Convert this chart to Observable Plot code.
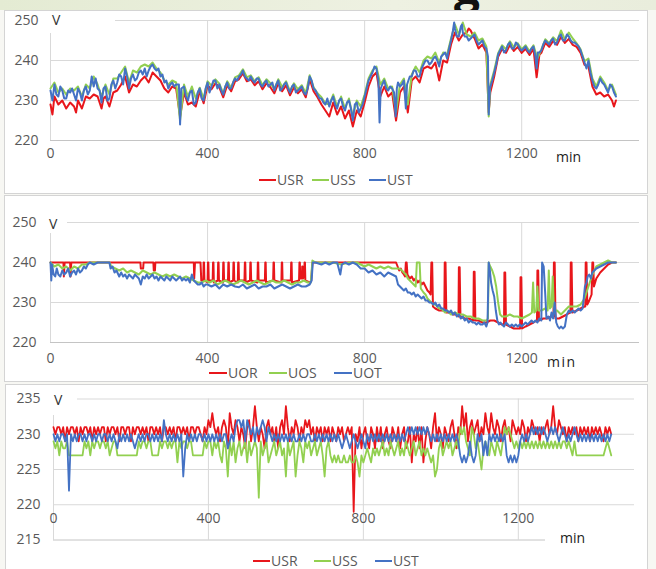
<!DOCTYPE html>
<html><head><meta charset="utf-8">
<script src="https://cdn.jsdelivr.net/npm/d3@7"></script>
<script src="https://cdn.jsdelivr.net/npm/@observablehq/plot@0.6"></script>
<style>
body{margin:0;background:#fff;}
#page{position:relative;width:656px;height:569px;overflow:hidden;background:#f7f7f3;font-family:"Open Sans",sans-serif;}
.box{position:absolute;background:#fff;border:1px solid #d4d4d4;}
.ov{position:absolute;background:#fff;}
.txt{position:absolute;white-space:nowrap;font-size:14px;line-height:14px;color:#595959;}
.sw{position:absolute;height:2px;}
.plotwrap{position:absolute;left:0;}
</style></head>
<body><div id="page"></div>
<script>
// ---------- DATA ----------
const XTICKS = [0, 400, 800, 1200];
const YTICKS1 = [220, 230, 240, 250];
const YTICKS2 = [220, 230, 240, 250];
const YTICKS3 = [215, 220, 225, 230, 235];
const NAMES1 = ["USR", "USS", "UST"];
const NAMES2 = ["UOR", "UOS", "UOT"];
const NAMES3 = ["USR", "USS", "UST"];
const COLORS = ["#e8161b", "#92d050", "#4472c4"];

// Panel 1: [minute, volts]
const USR1 = [[0,229],[5,226.5],[10,231],[20,229],[30,230],[40,228],[50,229.5],[60,228.5],[65,227],[70,230],[80,228],[90,231],[100,230.5],[110,231.5],[120,231],[130,228],[135,230.5],[140,231],[150,228.5],[160,232],[170,232.5],[180,234],[190,236],[200,232],[210,234],[220,233.5],[230,235],[240,236],[250,234.5],[260,237],[270,236],[280,235],[290,233],[300,232],[310,233.5],[320,233],[330,226],[340,232],[350,229],[360,229.5],[370,228.5],[380,232.3],[390,229.3],[400,233.8],[410,232.8],[420,234.3],[430,233.3],[440,230.8],[450,233.8],[460,232.3],[470,234.8],[480,235.3],[490,236.8],[500,234.8],[510,235.3],[520,233.8],[530,234.8],[540,232.8],[550,234.3],[560,233.3],[570,231.8],[580,234.3],[590,232.3],[600,233.8],[610,231.3],[620,233.3],[630,231.8],[640,232.8],[650,230.8],[660,235.3],[670,232.3],[680,230.8],[690,229],[700,227.5],[710,226],[720,229.5],[730,226.5],[740,228.5],[750,225.5],[760,227.5],[770,223.5],[780,227.5],[790,226],[800,229.5],[810,233.5],[820,236],[830,237],[840,231],[850,233.5],[860,231],[870,232],[880,225],[890,232],[900,233.5],[910,227],[920,235],[930,236],[940,234.5],[950,238],[960,238.5],[970,238],[980,239.5],[990,235],[1000,240],[1010,239.5],[1020,244],[1030,247],[1040,245],[1050,246.5],[1060,247],[1065,248],[1070,247.5],[1080,245.5],[1090,243],[1100,244],[1110,242],[1116,227],[1120,232],[1130,236],[1140,240.9],[1150,242.9],[1160,241.9],[1170,243.9],[1180,242.4],[1190,243.4],[1200,241.9],[1210,242.9],[1220,241.4],[1230,242.9],[1238,235.8],[1245,241.4],[1250,241.9],[1260,244.4],[1270,243.4],[1280,244.9],[1290,243.9],[1300,245.9],[1310,244.4],[1320,245.4],[1330,243.9],[1340,243.4],[1350,241.9],[1360,238.9],[1370,238.5],[1380,233.5],[1390,231.5],[1400,232],[1410,231],[1420,231.5],[1430,230],[1435,228.5],[1440,230]];
const USS1 = [[0,233],[10,234.5],[20,232],[30,233],[40,231.5],[50,233],[60,232.5],[70,233.5],[80,231],[90,234],[100,233],[110,236],[120,234],[130,231],[140,234],[150,231.5],[160,235.5],[170,235.5],[180,237],[190,238.5],[200,234.5],[210,237.5],[220,237],[230,238.5],[240,239],[250,238.5],[260,239.5],[270,238],[280,237],[290,235],[300,234],[310,235],[320,234.5],[330,225],[340,234],[350,231],[360,233.5],[370,230.5],[380,233.2],[390,230.4],[400,234.8],[410,233.7],[420,235.3],[430,234.2],[440,231.8],[450,234.8],[460,233.2],[470,235.8],[480,236.3],[490,237.8],[500,235.8],[510,236.3],[520,234.8],[530,235.8],[540,233.8],[550,235.3],[560,234.3],[570,232.8],[580,235.3],[590,233.3],[600,234.8],[610,232.3],[620,234.3],[630,232.8],[640,233.8],[650,231.8],[660,236.3],[670,233.3],[680,231.8],[690,230.8],[700,229.3],[710,229],[720,231.5],[730,228.5],[740,231],[750,228],[760,230.5],[770,226],[780,230],[790,228.5],[800,231.5],[810,235.5],[820,237.5],[830,238.5],[840,234],[850,235.5],[860,233],[870,233.5],[880,227],[890,234],[900,235.5],[910,229],[920,236.5],[930,238.5],[940,237],[950,240],[960,241],[970,240.5],[980,242],[990,239.5],[1000,242],[1010,241.5],[1020,245.5],[1030,249],[1040,246.5],[1050,249.5],[1060,246.5],[1070,246],[1080,247],[1090,245],[1100,245.5],[1110,243.5],[1116,226],[1120,234],[1130,237.5],[1140,241.8],[1150,243.8],[1160,242.8],[1170,244.8],[1180,243.3],[1190,244.3],[1200,242.8],[1210,243.8],[1220,242.3],[1230,243.8],[1240,240.5],[1250,242.8],[1260,245.3],[1270,244.3],[1280,245.8],[1290,244.8],[1300,247.5],[1310,245.3],[1320,247],[1330,245.5],[1340,244.3],[1350,242.8],[1360,239.8],[1370,240.5],[1380,235.5],[1390,233.5],[1400,236],[1410,234.5],[1420,232.5],[1430,234],[1440,231.5]];
const UST1 = [[0,232.5],[5,230],[10,234],[15,231.5],[20,231],[25,233.5],[30,232.5],[35,230.5],[40,230.5],[45,232.5],[50,232],[55,233],[60,231.5],[65,230],[70,233],[75,232],[80,230],[85,232.5],[90,233.5],[95,231.5],[100,232.5],[105,236],[110,233.5],[115,235.5],[120,233],[125,232.5],[130,229.5],[135,233],[140,233.5],[145,230],[150,230.5],[155,234],[160,235],[165,233],[170,234.5],[175,236.5],[180,236],[185,234],[190,238],[195,236],[200,233],[205,235.5],[210,236.5],[215,235],[220,235.5],[225,237],[230,237.5],[235,236.5],[240,238],[245,236],[250,237.5],[255,238.5],[260,239],[265,238],[270,237.5],[275,238],[280,236],[285,236.5],[290,234.5],[295,235],[300,233],[305,234],[310,234.5],[315,233.5],[320,234],[327,234],[330,224],[333,233],[340,233.5],[345,231],[350,230],[355,232],[360,232.5],[365,229],[370,229.5],[375,232],[380,233],[385,230.5],[390,230],[395,233],[400,234.5],[405,232],[410,233.5],[415,235],[420,235],[425,233],[430,234],[435,232.5],[440,231.5],[445,233.5],[450,234.5],[455,233],[460,233],[465,234.5],[470,235.5],[475,235],[480,236],[485,236.5],[490,237.5],[495,236],[500,235.5],[505,235],[510,236],[515,235],[520,234.5],[525,235.5],[530,235.5],[535,234],[540,233.5],[545,234.5],[550,235],[555,233.5],[560,234],[565,234.5],[570,232.5],[575,234],[580,235],[585,232.5],[590,233],[595,234],[600,234.5],[605,233],[610,232],[615,233.5],[620,234],[625,232],[630,232.5],[635,233],[640,233.5],[645,232],[650,231.5],[655,233],[660,236],[665,235],[670,233],[675,232.5],[680,231.5],[685,230.5],[690,230.5],[695,229.5],[700,229],[705,230.5],[710,228.5],[715,230],[720,231],[725,229],[730,228],[735,230],[740,230.5],[745,228.5],[750,227.5],[755,229.5],[760,230],[765,228],[770,225],[775,229],[780,229.5],[785,227],[790,228],[795,229],[800,231],[805,233],[810,235],[815,236],[820,237],[825,238.5],[830,238],[835,235],[838,224.5],[841,233],[845,234],[850,235],[855,233],[860,232.5],[865,233.5],[870,233],[875,232],[879,226],[882,233],[885,234.5],[890,233.5],[895,234],[900,235],[905,228],[908,234],[915,236],[920,236],[925,237.5],[930,237.5],[935,236],[940,236],[945,238],[950,239],[955,240],[960,240],[965,239],[970,239.5],[975,240.5],[980,241],[985,240],[990,238.5],[995,241],[1000,241.5],[1005,242],[1010,240.5],[1015,243],[1020,245],[1025,247.5],[1028,249.5],[1030,248],[1035,246],[1040,246],[1045,248.5],[1048,249],[1050,247],[1055,246],[1060,246],[1065,245],[1070,245.5],[1075,246],[1080,246.5],[1085,245],[1090,244],[1095,244.5],[1100,245],[1105,243.5],[1110,243],[1114,241],[1116,226.5],[1119,233],[1125,235],[1130,237],[1135,239],[1140,241.5],[1145,242.5],[1150,243.5],[1155,242],[1160,242.5],[1165,244],[1170,244.5],[1175,243],[1180,243],[1185,244.5],[1190,244],[1195,243],[1200,242.5],[1205,243],[1210,243.5],[1215,242.5],[1220,242],[1225,243],[1230,243.5],[1235,241],[1238,238],[1241,242],[1245,242],[1250,242.5],[1255,244],[1260,245],[1265,244.5],[1270,244],[1275,245],[1280,245.5],[1285,244],[1290,244.5],[1295,246],[1300,246.5],[1305,245],[1310,245],[1315,246.5],[1320,246],[1325,245],[1330,244.5],[1335,244.5],[1340,244],[1345,243.5],[1350,242.5],[1355,241],[1360,239.5],[1365,238],[1370,240],[1375,237],[1380,235],[1385,233.5],[1390,233],[1395,234],[1400,235.5],[1405,234.5],[1410,234],[1415,233],[1420,232],[1425,234],[1430,233.5],[1435,232],[1440,231]];

// Panel 2: [minute, volts]
const UOR2 = [[0,240],[20,240],[33,240],[34,236.5],[36,240],[50,240],[51,236.5],[53,240],[100,240],[150,240],[200,240],[229,240],[230,238.5],[236,238.5],[237,240],[262,240],[263,238],[266,238],[267,240],[300,240],[350,240],[365,240],[366,236],[368,240],[382,240],[384,235.5],
[389,235.5],[390,240],[391,240],[392,235.5],[400,235],[401,240],[402,240],[403,235.5],[413,235.5],[414,240],[415,240],[416,235],[426,235.5],[427,240],[428,240],[429,235.5],[439,235],[440,240],[441,240],[442,235.5],[452,235.5],[453,240],[454,240],[455,235],[465,235.5],[466,240],[467,240],[468,235.5],[477,235],[478,240],[479,240],[480,235.5],[494,235.5],[495,240],[496,240],[497,235],[508,235.5],[509,240],[510,240],[511,235.5],[527,235],[528,240],[529,240],[530,235.5],[546,235.5],[547,240],[548,240],[549,235],[567,235.5],[568,240],[569,240],[570,235.5],[588,235],[589,240],[590,240],[591,235.5],[612,235.5],[613,240],[614,240],[615,235],[633,235.5],[634,240],[635,240],[636,236],[640,236],[641,239],[642,239],[643,236],[646,236.5],[647,240],[648,240],[649,235.5],
[660,235],[664,235.5],[667,240],[700,240],[750,240],[800,240],[850,240],[880,240],[884,239],[888,238],[892,238.5],[896,237.5],[900,237],[903,236.5],[905,240],[907,240],[909,237],[915,236],[920,236.5],[925,235.5],[930,236],[935,235],[940,235.5],[945,234.5],[950,235],[955,234],[960,233],[965,232.5],[968,232],[970,240],[972,240],[974,229],[980,228.5],[990,228],[1000,228],[1003,228],[1004,240],[1006,240],[1008,227.5],[1015,227.5],[1025,227],[1035,227],[1039,226.5],[1040,238.8],[1042,238.8],[1044,226.5],[1055,226],[1065,226],[1077,225.5],[1078,237.7],[1080,237.7],[1082,225.5],[1090,225.5],[1100,225],[1110,225],[1120,225.5],[1130,225.5],[1140,225],[1150,224.5],[1155,224.5],[1156,237.5],[1158,237.5],[1160,224.5],[1170,224],[1180,223.5],[1190,223.5],[1196,223.5],[1197,236.3],[1199,236.3],[1201,223.5],[1210,224],[1220,224.5],[1230,225],[1239,225.5],[1240,238],[1242,238],[1244,225.5],[1255,226],[1265,226],[1275,226.5],[1281,226.5],[1282,240],[1284,240],[1286,226],[1295,226],[1305,226.5],[1315,227],[1324,227.5],[1325,240],[1327,240],[1329,227.5],[1340,228],[1350,228.5],[1360,229],[1362,229],[1363,240],[1365,240],[1367,229.5],[1372,230.5],[1378,232],[1380,240],[1382,240],[1384,234],[1390,236],[1400,237.5],[1410,238.5],[1420,239.5],[1430,240],[1440,240]];
const UOS2 = [[0,240],[10,239],[20,239.5],[30,238.5],[40,239],[50,238],[60,239],[70,238.5],[80,239.5],[90,239.5],[100,240],[150,240],[155,239],[165,238.5],[175,238],[185,238.5],[195,237.5],[205,238],[215,237.5],[225,237],[235,238],[245,237.5],[255,237],[265,237.5],[275,237],[285,236.5],[295,237],[305,236.5],[315,237],[325,236.5],[335,236],[345,236.5],[355,236],[365,235.5],[375,235],[385,235],[395,235.5],[405,235],[415,235.5],[425,234.5],[435,235],[445,235.5],[455,235],[465,234.5],[475,235],[485,235.5],[495,235],[505,234.5],[515,235],[525,235.5],[535,235],[545,234.5],[555,235],[565,235.5],[575,235],[585,235],[595,235.5],[605,235],[615,234.5],[625,235],[635,235],[645,235.5],[655,235],[663,235],[667,240.5],[675,240],[700,240],[720,240],[740,239.5],[760,240],[780,240],[790,239.5],[800,239],[810,239.5],[820,239],[830,238.5],[840,239],[850,238.5],[860,239],[870,238.5],[880,238.5],[888,238.5],[895,238],[900,237.5],[905,237],[910,236],[915,235.5],[920,235],[925,234.5],[930,234],[933,240],[940,240],[943,233.5],[950,232.5],[955,232],[960,231],[965,230.5],[970,230],[975,229.5],[980,229.5],[985,229],[990,228.5],[995,228.5],[1000,228],[1005,227.5],[1010,228],[1015,227.5],[1020,227],[1030,227.5],[1040,227],[1050,227],[1060,226.5],[1070,226.5],[1080,226],[1090,226],[1100,225.5],[1110,225.5],[1114,226],[1116,240],[1120,239],[1125,238],[1130,236.5],[1135,234],[1140,230],[1145,227],[1150,226.5],[1160,226.5],[1170,227],[1180,226.5],[1190,226.5],[1200,226],[1210,226.5],[1220,227],[1226,227.5],[1229,235],[1232,227.5],[1237,228],[1240,234],[1243,228],[1250,228],[1260,228.5],[1266,228],[1269,238],[1272,228.5],[1276,229],[1279,236.5],[1282,228],[1290,228],[1300,227],[1310,228],[1320,229],[1330,229],[1340,229],[1350,229.5],[1360,231],[1370,234],[1380,237],[1390,239],[1400,239.5],[1410,240],[1420,240.5],[1430,240],[1440,240]];
const UOT2 = [[0,240],[2,235.5],[4,239.5],[8,237],[12,236.5],[16,238.5],[20,237],[25,236.5],[30,238],[35,237],[40,237.5],[45,238.5],[50,236.5],[55,237.5],[60,238],[65,237],[70,238.5],[75,237.5],[80,238],[85,239],[90,238.5],[95,239.5],[100,240],[110,239.5],[120,240],[130,240],[140,240],[150,240],[153,238.5],[158,239],[163,237.5],[168,238],[175,236.5],[180,237.5],[185,236.5],[190,237],[195,236],[200,237],[205,236.5],[210,236],[215,237],[220,236.5],[225,236],[230,234.5],[235,236.5],[240,236],[245,237],[250,236],[255,236.5],[260,237],[265,236],[270,236.5],[275,235.5],[280,236.5],[285,236],[290,235.5],[295,236.5],[300,236],[305,235.5],[310,236.5],[315,236],[320,235.5],[325,236],[330,236.5],[335,235.5],[340,236],[345,235.5],[350,236],[355,235],[360,237],[365,235.5],[370,235],[375,234.5],[380,234.5],[385,235],[390,234],[395,234.5],[400,234.5],[410,234],[420,234.5],[430,233.5],[440,234.5],[450,234],[460,234.5],[470,234],[480,233.8],[490,234.5],[500,233.5],[510,234],[520,234.5],[530,233.5],[540,234],[550,234],[560,234.5],[570,233.5],[580,234],[590,234.5],[600,234],[610,233.5],[620,234],[630,234.5],[640,234],[650,234],[660,234.5],[665,235.5],[668,240],[675,240],[690,239.5],[700,240],[710,239.5],[720,240],[730,240],[738,237],[742,239.5],[750,240],[760,239.5],[770,240],[780,239.5],[790,238.5],[800,238.5],[810,237.5],[820,238],[830,237],[840,237.5],[850,236.5],[860,237.5],[870,237],[880,236.5],[885,234.5],[890,234],[895,233.5],[900,233],[905,233.5],[910,232.5],[915,232.5],[920,232],[925,232.5],[930,231.5],[935,232],[940,231.5],[945,231],[950,231.5],[955,230.5],[960,230.5],[965,230],[970,230],[975,229.5],[980,230],[985,229],[990,229.5],[995,228.5],[1000,228.5],[1005,228],[1010,228],[1015,227.5],[1020,228],[1025,227],[1030,227.5],[1035,226.5],[1040,227],[1045,226],[1050,226.5],[1055,225.5],[1060,226],[1065,225],[1070,225.5],[1075,225],[1080,225],[1085,224.5],[1090,225],[1095,224.5],[1100,224.5],[1105,225],[1110,224],[1113,225],[1116,240],[1119,238],[1122,235],[1126,233],[1130,231.5],[1134,228],[1138,225.5],[1142,224.5],[1146,225],[1150,224.5],[1155,224],[1160,225],[1165,224.5],[1170,224],[1175,224.5],[1180,224],[1185,224.5],[1190,224],[1195,224.5],[1200,224],[1205,224.5],[1210,225],[1215,224.5],[1220,225],[1225,225.5],[1230,225],[1235,225.5],[1240,225],[1245,226],[1250,225.5],[1252,240],[1256,239],[1260,232],[1263,226],[1268,226.5],[1272,225.5],[1276,227.5],[1280,226],[1284,230],[1288,225],[1292,224],[1296,223.5],[1300,224],[1305,223.5],[1310,224],[1315,227],[1320,228],[1325,227.5],[1330,228],[1335,227.5],[1340,228],[1345,228.5],[1350,228],[1355,228.5],[1358,231],[1361,234],[1365,235],[1368,236.5],[1372,237],[1376,236],[1380,237.5],[1385,238],[1390,238.5],[1400,239],[1410,239.5],[1420,240],[1430,240],[1440,240]];

// Panel 3: one reading every 5 minutes, 0..1440
const STEP3 = 5;
const USR3 = [
231,230,231,231,230,231,229,231,230,231,231,230,
231,229,231,230,231,231,230,231,229,231,230,231,
230,231,231,229,231,230,231,231,230,231,229,231,
231,230,231,231,229,231,230,231,231,230,231,230,
231,229,231,231,230,231,230,231,229,231,231,230,
231,230,231,229,231,231,230,231,230,231,229,231,
231,230,231,231,230,229,231,230,232,231,233,231,
230,231,229,231,232,231,228,233,231,230,232,231,
229,231,230,228,231,232,229,231,234,231,229,231,
230,228,231,232,230,231,229,231,228,231,232,230,
234,231,229,231,230,232,231,229,231,230,232,231,
232,230,231,229,231,230,231,229,231,230,231,229,
231,230,229,231,230,231,229,230,231,230,231,219,
230,229,231,228,230,231,229,228,231,230,228,231,
229,231,228,230,231,229,228,231,230,229,231,228,
230,231,228,229,231,226,230,229,231,228,231,226,
229,231,230,228,231,233,229,231,230,228,231,230,
229,231,232,230,228,231,230,234,231,233,229,231,
232,230,231,232,229,231,230,233,231,230,233,231,
230,232,231,229,231,232,230,231,229,232,231,230,
231,230,232,231,229,231,230,232,231,230,231,229,
231,230,231,232,230,231,234,231,230,232,231,230,
231,229,231,230,231,230,231,229,231,230,231,230,
231,229,231,230,231,230,231,230,229,231,230,231,
230];
const USS3 = [
229,228,229,227,229,228,228,229,227,227,227,227,
227,227,227,227,229,228,229,227,229,228,229,229,
228,229,229,228,229,227,228,229,229,227,227,227,
227,227,227,227,227,227,227,227,229,228,229,229,
228,229,229,227,227,227,227,229,228,229,229,228,
229,228,229,229,226,229,228,229,229,228,229,229,
227,227,227,227,227,227,229,228,229,229,227,229,
228,229,227,226,229,228,224,229,227,229,226,228,
229,227,228,229,226,229,227,228,229,228,221,229,
227,228,229,226,227,228,229,227,228,229,227,228,
224,229,227,228,229,224,227,229,228,226,229,228,
229,227,228,229,227,228,229,227,224,228,229,227,
226,227,226,227,226,226,227,226,226,227,226,226,
227,226,224,227,226,227,228,227,226,228,227,228,
227,228,229,227,228,227,229,228,227,228,229,227,
228,227,229,228,227,228,229,227,228,229,227,228,
227,228,227,226,227,224,225,228,229,227,228,229,
228,229,227,228,229,228,231,230,231,229,228,227,
231,230,228,229,227,225,228,229,228,227,229,228,
227,229,228,227,229,231,230,231,230,229,228,229,
228,229,228,229,228,229,228,229,228,229,228,229,
228,229,228,229,228,229,228,229,228,229,228,229,
229,228,229,228,227,229,227,227,227,227,227,227,
227,227,227,227,227,227,227,227,227,228,229,228,
227];
const UST3 = [
230,229,230,229,230,230,229,230,222,230,229,230,
229,230,230,229,230,229,230,230,229,230,229,230,
230,229,230,230,229,230,229,230,229,228,230,229,
230,229,230,229,230,229,228,229,230,229,230,229,
230,230,229,230,229,230,229,230,229,232,230,229,
230,229,230,229,230,229,230,224,228,230,229,230,
229,230,229,230,230,229,230,229,230,229,230,229,
230,229,230,229,230,230,228,229,230,229,231,232,
232,231,232,229,232,231,230,231,229,231,230,231,
232,231,229,231,230,229,230,229,230,229,230,229,
230,229,230,229,230,229,229,230,229,230,229,230,
230,229,229,230,229,230,229,230,229,230,229,230,
229,230,229,230,229,228,229,230,229,228,229,230,
229,228,229,230,229,228,230,229,230,229,230,229,
230,229,230,229,230,229,230,229,230,229,230,229,
230,229,230,231,230,231,230,231,230,231,230,231,
230,231,230,229,230,229,230,229,230,229,230,229,
230,229,230,229,230,229,227,226,227,226,227,229,
227,226,227,230,229,230,227,229,227,230,229,230,
229,230,229,230,229,230,227,226,227,226,227,226,
227,229,230,229,230,229,230,231,230,231,230,231,
230,231,230,229,230,231,230,231,230,229,230,231,
230,229,230,229,230,231,230,229,230,229,230,229,
230,229,230,229,230,229,230,229,230,229,230,229,
230];

// ---------- LAYOUT ----------
const page = document.getElementById("page");
function add(cls, css, text) {
  const d = document.createElement("div");
  d.className = cls;
  Object.assign(d.style, css);
  if (text != null) d.textContent = text;
  page.appendChild(d);
  return d;
}
// top banner remnant with the tail of a title glyph
add("ov", {left:"0px", top:"0px", width:"656px", height:"10px", background:"linear-gradient(90deg,#e4ebd3,#eef1e2 60%,#e9eddc)"});
const gbox = add("ov", {left:"440px", top:"0px", width:"60px", height:"13px", background:"transparent", overflow:"hidden"});
const g = document.createElement("div");
Object.assign(g.style, {position:"absolute", left:"14px", top:"-37px", font:"bold 46px 'Open Sans',sans-serif", color:"#111", lineHeight:"46px"});
g.textContent = "g";
gbox.appendChild(g);

// panel frames
add("box", {left:"4px", top:"10px", width:"642px", height:"182px"});
add("box", {left:"4px", top:"195px", width:"642px", height:"185px"});
add("box", {left:"5px", top:"384px", width:"641px", height:"190px"});

function linesMarks(series, sw) {
  return series.map((s, i) => Plot.line(s, {x: d => d[0], y: d => d[1], stroke: COLORS[i], strokeWidth: sw, strokeLinejoin: "round"}));
}

function makePlot(o) {
  const plot = Plot.plot({
    width: 656, height: o.height,
    marginLeft: o.ml, marginRight: o.mr, marginTop: o.mt, marginBottom: o.mb,
    x: {domain: [0, 1500]},
    y: {domain: o.ydomain},
    style: {fontFamily: "'Open Sans',sans-serif", fontSize: "14px", color: "#595959", background: "transparent", overflow: "visible"},
    marks: [
      Plot.gridY(o.grid, {stroke: "#d9d9d9", strokeOpacity: 1}),
      Plot.gridX([400, 800, 1200], {stroke: "#d9d9d9", strokeOpacity: 1}),
      Plot.ruleX([0], {stroke: "#d9d9d9"}),
      Plot.ruleY([o.ydomain[0]], {stroke: "#c4c4c4"}),
      Plot.axisY(o.yticks, {tickSize: 0, tickPadding: o.ypad, fontSize: 14, fill: "#595959"}),
      Plot.axisX([], {tickSize: 0, label: null}),
      Plot.text(XTICKS, {x: d => d, frameAnchor: "bottom", dy: o.xdy, text: d => String(d), fontSize: 14, fill: "#595959"}),
      ...linesMarks(o.series, o.sw)
    ]
  });
  const wrap = add("plotwrap", {top: o.top + "px"});
  wrap.appendChild(plot);
}

makePlot({top: 10, height: 165, ml: 50, mr: 17, mt: 10, mb: 35, ydomain: [220, 250], grid: [230, 240, 250], yticks: YTICKS1, ypad: 12, xdy: 17, sw: 2, series: [USR1, USS1, UST1]});
makePlot({top: 212, height: 165, ml: 50, mr: 17, mt: 10, mb: 35, ydomain: [220, 250], grid: [230, 240, 250], yticks: YTICKS2, ypad: 14, xdy: 20, sw: 2, series: [UOR2, UOS2, UOT2]});
makePlot({top: 388, height: 165, ml: 53, mr: 22, mt: 10.5, mb: 13.5, ydomain: [215, 235], grid: [220, 225, 230, 235], yticks: YTICKS3, ypad: 13, xdy: -17.5, sw: 1.8, series: [USR3.map((v, i) => [i * STEP3, v]), USS3.map((v, i) => [i * STEP3, v]), UST3.map((v, i) => [i * STEP3, v])]});

// axis titles (with white label boxes, as in the source)
add("ov", {left:"44px", top:"11px", width:"71px", height:"22px"});
add("txt", {left:"52px", top:"13px", color:"#333"}, "V");
add("txt", {left:"556px", top:"150px", color:"#222"}, "min");
add("ov", {left:"44px", top:"212px", width:"23px", height:"21px"});
add("txt", {left:"49px", top:"217px", color:"#333"}, "V");
add("txt", {left:"547px", top:"355px", color:"#222", letterSpacing:"1.5px"}, "min");
add("ov", {left:"47px", top:"389px", width:"30px", height:"26px"});
add("txt", {left:"54px", top:"393px", color:"#333"}, "V");
add("ov", {left:"545px", top:"530px", width:"95px", height:"18px"});
add("txt", {left:"560px", top:"531px", color:"#222"}, "min");

// legends
function legend(names, starts, swW, y) {
  names.forEach((n, i) => {
    add("sw", {left: starts[i] + "px", top: (y - 1) + "px", width: swW + "px", background: COLORS[i]});
    add("txt", {left: (starts[i] + swW + 1) + "px", top: (y - 7) + "px"}, n);
  });
}
legend(NAMES1, [259, 312, 369], 17, 180);
legend(NAMES2, [209, 269, 334], 18, 373);
legend(NAMES3, [253, 314, 375], 17, 561);
</script>
</body></html>
